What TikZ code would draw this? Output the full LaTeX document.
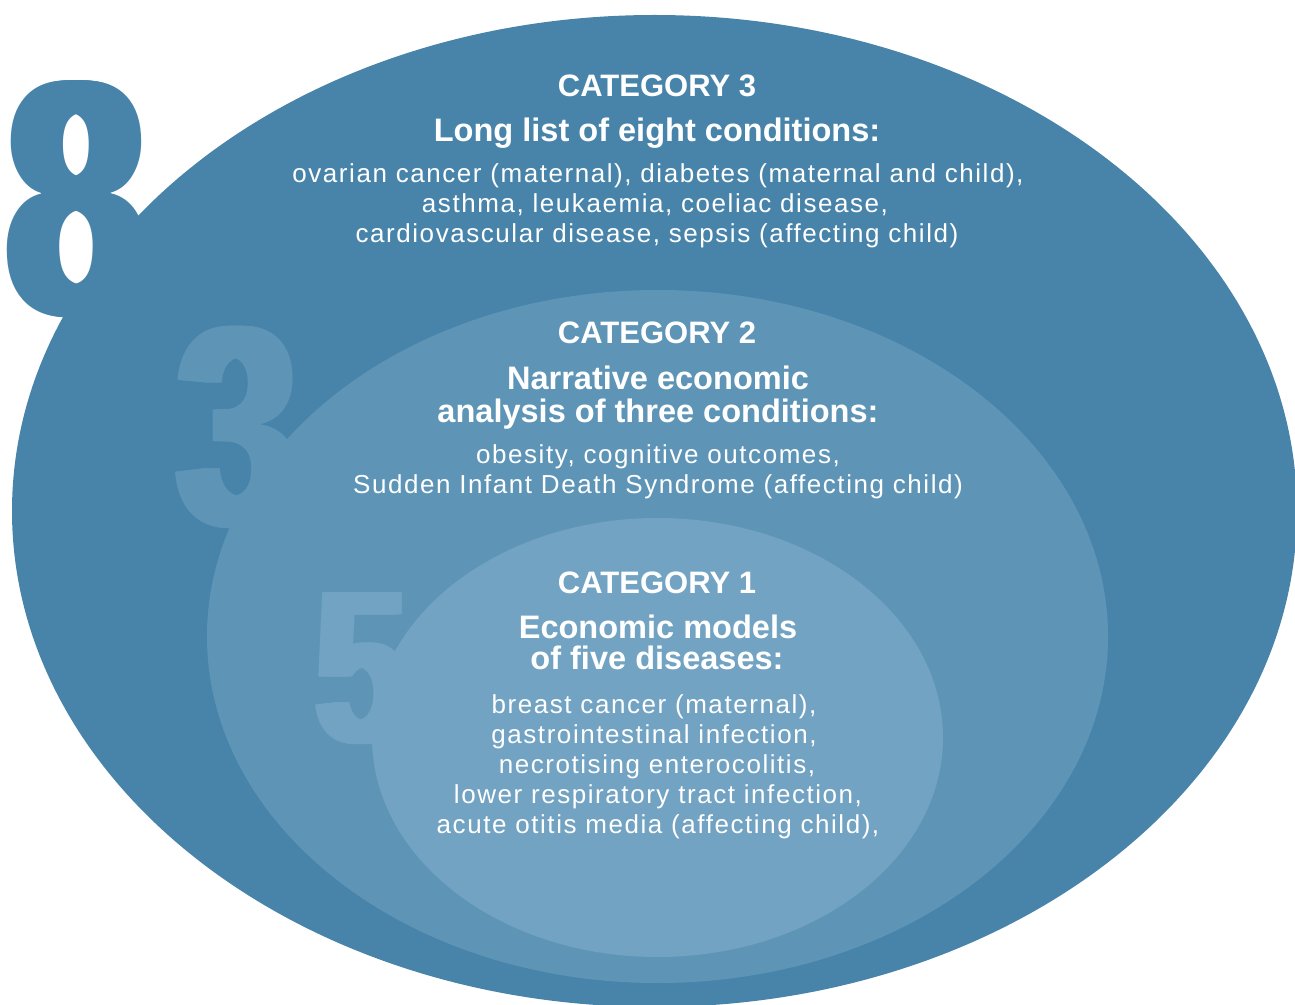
\documentclass[tikz,border=0pt]{standalone}
\usepackage{fontspec}
\setmainfont{Liberation Sans}
\newfontfamily\bodyfont{Liberation Sans}[LetterSpace=6]
\definecolor{outerc}{HTML}{4884AA}
\definecolor{midc}{HTML}{5E95B7}
\definecolor{innerc}{HTML}{72A3C2}
\begin{document}
\begin{tikzpicture}[x=0.75pt,y=-0.75pt,
  cat/.style={inner sep=0pt,anchor=base,text=white,font=\fontsize{23.25}{28}\selectfont\bfseries},
  sub/.style={inner sep=0pt,anchor=base,text=white,font=\fontsize{24.4}{29}\selectfont\bfseries},
  body/.style={inner sep=0pt,anchor=base,text=white,font=\bodyfont\fontsize{19.5}{22.5}\selectfont},
  numeral/.style={inner sep=0pt,anchor=base}]
\useasboundingbox (0,0) rectangle (1295,1005);
% outer ellipse and its numeral
\fill[outerc] (654.5,511) ellipse [x radius=481.875pt, y radius=372pt];
\foreach \d [count=\i] in {-9,-7.5,...,9}
  \node[numeral,text=outerc,font=\fontsize{251}{251}\selectfont\bfseries] (eight\i) at (76.5+\d,315) {\scalebox{0.73}[1]{8}};
% middle ellipse and its numeral
\fill[midc] (657.5,636.5) ellipse [x radius=337.875pt, y radius=259.875pt];
\foreach \d [count=\i] in {-8,-6.5,...,8}
  \node[numeral,text=midc,font=\fontsize{214}{214}\selectfont\bfseries] (three\i) at (238.5+\d,525) {\scalebox{0.75}[1]{3}};
% inner ellipse and its numeral
\fill[innerc] (657.5,737.5) ellipse [x radius=214.125pt, y radius=164.625pt];
\foreach \d [count=\i] in {-6,-4.5,...,6}
  \node[numeral,text=innerc,font=\fontsize{163.5}{163.5}\selectfont\bfseries] (five\i) at (361.5+\d,742) {\scalebox{0.75}[1]{5}};
% category 3
\node[cat] (c3t) at (657,97) {CATEGORY 3};
\node[sub] (c3s) at (657,142) {Long list of eight conditions:};
\node[body] (c3a) at (658,183) {ovarian cancer (maternal), diabetes (maternal and child),};
\node[body] (c3b) at (655,213) {asthma, leukaemia, coeliac disease,};
\node[body] (c3c) at (657,243) {cardiovascular disease, sepsis (affecting child)};
% category 2
\node[cat] (c2t) at (657,344) {CATEGORY 2};
\node[sub] (c2s) at (658,389) {Narrative economic};
\node[sub] (c2u) at (658,422) {analysis of three conditions:};
\node[body] (c2a) at (658,463) {obesity, cognitive outcomes,};
\node[body] (c2b) at (658,493) {Sudden Infant Death Syndrome (affecting child)};
% category 1
\node[cat] (c1t) at (657,593) {CATEGORY 1};
\node[sub] (c1s) at (658,638) {Economic models};
\node[sub] (c1u) at (657,669) {of five diseases:};
\node[body] (c1a) at (654,713) {breast cancer (maternal),};
\node[body] (c1b) at (654,743) {gastrointestinal infection,};
\node[body] (c1c) at (657,773) {necrotising enterocolitis,};
\node[body] (c1d) at (658,803) {lower respiratory tract infection,};
\node[body] (c1e) at (658,833) {acute otitis media (affecting child),};
\end{tikzpicture}
\end{document}
